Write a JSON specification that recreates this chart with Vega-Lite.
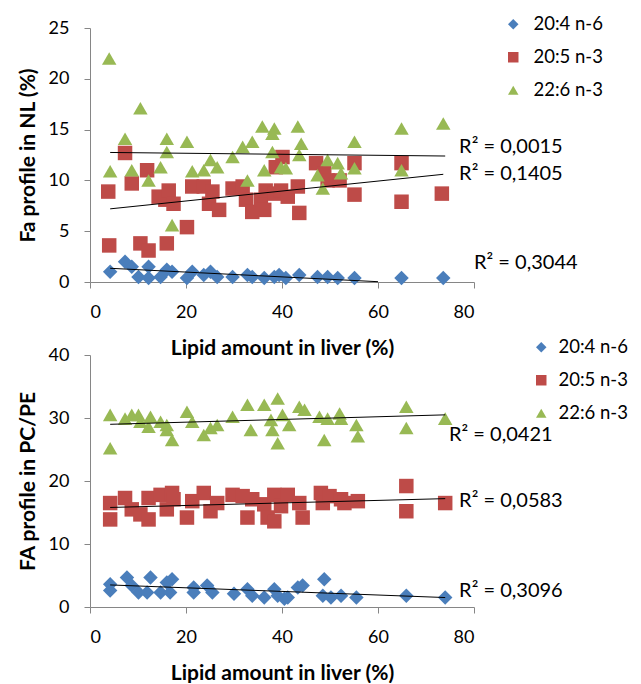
{
  "$schema": "https://vega.github.io/schema/vega-lite/v6.json",
  "padding": {"left": 17, "top": 15, "right": 0, "bottom": 0},
  "background": "white",
  "datasets": {
    "nl": [
      {"s":"20:4 n-6","x":4.2,"y":1.0},{"s":"20:4 n-6","x":7.3,"y":2.0},{"s":"20:4 n-6","x":8.7,"y":1.5},{"s":"20:4 n-6","x":10.1,"y":0.5},{"s":"20:4 n-6","x":12.2,"y":1.5},{"s":"20:4 n-6","x":12.2,"y":0.4},{"s":"20:4 n-6","x":14.7,"y":0.5},{"s":"20:4 n-6","x":16.0,"y":1.2},{"s":"20:4 n-6","x":17.1,"y":1.0},{"s":"20:4 n-6","x":20.2,"y":0.4},{"s":"20:4 n-6","x":21.3,"y":1.0},{"s":"20:4 n-6","x":23.7,"y":0.7},{"s":"20:4 n-6","x":25.1,"y":1.0},{"s":"20:4 n-6","x":26.5,"y":0.5},{"s":"20:4 n-6","x":29.7,"y":0.5},{"s":"20:4 n-6","x":32.8,"y":0.7},{"s":"20:4 n-6","x":33.8,"y":0.5},{"s":"20:4 n-6","x":36.3,"y":0.4},{"s":"20:4 n-6","x":38.4,"y":0.5},{"s":"20:4 n-6","x":39.4,"y":0.7},{"s":"20:4 n-6","x":40.8,"y":0.4},{"s":"20:4 n-6","x":43.6,"y":0.7},{"s":"20:4 n-6","x":47.4,"y":0.5},{"s":"20:4 n-6","x":49.5,"y":0.5},{"s":"20:4 n-6","x":51.6,"y":0.4},{"s":"20:4 n-6","x":55.1,"y":0.4},{"s":"20:4 n-6","x":64.9,"y":0.4},{"s":"20:4 n-6","x":73.6,"y":0.4},
      {"s":"20:5 n-3","x":3.8,"y":8.9},{"s":"20:5 n-3","x":4.0,"y":3.6},{"s":"20:5 n-3","x":7.3,"y":12.7},{"s":"20:5 n-3","x":8.7,"y":9.7},{"s":"20:5 n-3","x":10.5,"y":3.8},{"s":"20:5 n-3","x":11.9,"y":11.0},{"s":"20:5 n-3","x":12.2,"y":3.1},{"s":"20:5 n-3","x":14.3,"y":8.4},{"s":"20:5 n-3","x":15.7,"y":8.1},{"s":"20:5 n-3","x":16.0,"y":3.8},{"s":"20:5 n-3","x":16.4,"y":9.0},{"s":"20:5 n-3","x":17.4,"y":7.7},{"s":"20:5 n-3","x":20.2,"y":5.4},{"s":"20:5 n-3","x":21.3,"y":9.4},{"s":"20:5 n-3","x":23.7,"y":9.4},{"s":"20:5 n-3","x":24.8,"y":7.7},{"s":"20:5 n-3","x":25.5,"y":8.9},{"s":"20:5 n-3","x":26.9,"y":7.1},{"s":"20:5 n-3","x":29.7,"y":9.2},{"s":"20:5 n-3","x":31.8,"y":9.4},{"s":"20:5 n-3","x":32.5,"y":8.1},{"s":"20:5 n-3","x":33.8,"y":6.9},{"s":"20:5 n-3","x":35.6,"y":8.1},{"s":"20:5 n-3","x":36.3,"y":7.1},{"s":"20:5 n-3","x":36.6,"y":9.0},{"s":"20:5 n-3","x":38.4,"y":8.7},{"s":"20:5 n-3","x":38.7,"y":11.3},{"s":"20:5 n-3","x":39.8,"y":9.0},{"s":"20:5 n-3","x":40.1,"y":12.3},{"s":"20:5 n-3","x":41.2,"y":8.4},{"s":"20:5 n-3","x":43.3,"y":9.4},{"s":"20:5 n-3","x":43.6,"y":6.8},{"s":"20:5 n-3","x":47.1,"y":11.7},{"s":"20:5 n-3","x":48.8,"y":10.7},{"s":"20:5 n-3","x":49.5,"y":10.0},{"s":"20:5 n-3","x":52.0,"y":10.0},{"s":"20:5 n-3","x":55.1,"y":11.7},{"s":"20:5 n-3","x":55.1,"y":8.6},{"s":"20:5 n-3","x":64.9,"y":11.7},{"s":"20:5 n-3","x":64.9,"y":7.9},{"s":"20:5 n-3","x":73.3,"y":8.7},
      {"s":"22:6 n-3","x":4.0,"y":22.0},{"s":"22:6 n-3","x":4.2,"y":10.9},{"s":"22:6 n-3","x":7.3,"y":14.1},{"s":"22:6 n-3","x":8.7,"y":11.0},{"s":"22:6 n-3","x":10.5,"y":17.1},{"s":"22:6 n-3","x":12.2,"y":10.0},{"s":"22:6 n-3","x":14.7,"y":11.3},{"s":"22:6 n-3","x":16.0,"y":14.1},{"s":"22:6 n-3","x":16.0,"y":12.8},{"s":"22:6 n-3","x":17.1,"y":5.6},{"s":"22:6 n-3","x":20.2,"y":13.8},{"s":"22:6 n-3","x":21.3,"y":10.9},{"s":"22:6 n-3","x":23.7,"y":11.0},{"s":"22:6 n-3","x":25.1,"y":12.0},{"s":"22:6 n-3","x":26.5,"y":11.3},{"s":"22:6 n-3","x":29.7,"y":12.3},{"s":"22:6 n-3","x":31.8,"y":13.3},{"s":"22:6 n-3","x":32.8,"y":10.0},{"s":"22:6 n-3","x":33.8,"y":13.8},{"s":"22:6 n-3","x":35.9,"y":15.3},{"s":"22:6 n-3","x":36.3,"y":11.0},{"s":"22:6 n-3","x":38.4,"y":15.1},{"s":"22:6 n-3","x":38.0,"y":14.6},{"s":"22:6 n-3","x":38.0,"y":12.8},{"s":"22:6 n-3","x":39.8,"y":11.3},{"s":"22:6 n-3","x":40.8,"y":11.2},{"s":"22:6 n-3","x":43.3,"y":15.3},{"s":"22:6 n-3","x":44.0,"y":13.6},{"s":"22:6 n-3","x":43.6,"y":12.5},{"s":"22:6 n-3","x":47.4,"y":10.5},{"s":"22:6 n-3","x":48.5,"y":9.2},{"s":"22:6 n-3","x":49.5,"y":12.0},{"s":"22:6 n-3","x":51.6,"y":11.7},{"s":"22:6 n-3","x":52.3,"y":10.7},{"s":"22:6 n-3","x":55.1,"y":13.8},{"s":"22:6 n-3","x":55.1,"y":11.2},{"s":"22:6 n-3","x":64.9,"y":15.1},{"s":"22:6 n-3","x":64.9,"y":11.0},{"s":"22:6 n-3","x":73.6,"y":15.6}
    ],
    "pc": [
      {"s":"20:4 n-6","x":4.2,"y":3.6},{"s":"20:4 n-6","x":4.2,"y":2.6},{"s":"20:4 n-6","x":7.7,"y":4.7},{"s":"20:4 n-6","x":8.7,"y":3.4},{"s":"20:4 n-6","x":10.1,"y":2.3},{"s":"20:4 n-6","x":12.6,"y":4.7},{"s":"20:4 n-6","x":11.9,"y":2.3},{"s":"20:4 n-6","x":14.7,"y":2.3},{"s":"20:4 n-6","x":16.0,"y":3.9},{"s":"20:4 n-6","x":17.1,"y":4.4},{"s":"20:4 n-6","x":16.7,"y":2.3},{"s":"20:4 n-6","x":21.6,"y":3.1},{"s":"20:4 n-6","x":21.6,"y":2.3},{"s":"20:4 n-6","x":24.4,"y":3.4},{"s":"20:4 n-6","x":25.5,"y":2.3},{"s":"20:4 n-6","x":30.0,"y":2.1},{"s":"20:4 n-6","x":32.8,"y":2.8},{"s":"20:4 n-6","x":33.8,"y":1.8},{"s":"20:4 n-6","x":36.3,"y":1.5},{"s":"20:4 n-6","x":38.4,"y":2.8},{"s":"20:4 n-6","x":39.1,"y":1.8},{"s":"20:4 n-6","x":40.5,"y":1.3},{"s":"20:4 n-6","x":41.2,"y":1.5},{"s":"20:4 n-6","x":43.3,"y":3.1},{"s":"20:4 n-6","x":44.3,"y":3.4},{"s":"20:4 n-6","x":48.8,"y":4.4},{"s":"20:4 n-6","x":48.5,"y":1.8},{"s":"20:4 n-6","x":50.2,"y":1.5},{"s":"20:4 n-6","x":52.3,"y":1.8},{"s":"20:4 n-6","x":55.5,"y":1.5},{"s":"20:4 n-6","x":65.9,"y":1.8},{"s":"20:4 n-6","x":74.0,"y":1.5},
      {"s":"20:5 n-3","x":4.2,"y":16.5},{"s":"20:5 n-3","x":4.2,"y":13.9},{"s":"20:5 n-3","x":7.3,"y":17.3},{"s":"20:5 n-3","x":8.7,"y":15.5},{"s":"20:5 n-3","x":10.5,"y":14.7},{"s":"20:5 n-3","x":12.2,"y":17.3},{"s":"20:5 n-3","x":12.2,"y":13.9},{"s":"20:5 n-3","x":14.7,"y":17.8},{"s":"20:5 n-3","x":16.0,"y":15.5},{"s":"20:5 n-3","x":17.1,"y":18.1},{"s":"20:5 n-3","x":17.4,"y":17.1},{"s":"20:5 n-3","x":20.2,"y":14.2},{"s":"20:5 n-3","x":21.3,"y":16.8},{"s":"20:5 n-3","x":23.7,"y":18.1},{"s":"20:5 n-3","x":25.1,"y":15.2},{"s":"20:5 n-3","x":26.5,"y":16.5},{"s":"20:5 n-3","x":29.7,"y":17.8},{"s":"20:5 n-3","x":31.8,"y":17.6},{"s":"20:5 n-3","x":32.8,"y":14.2},{"s":"20:5 n-3","x":33.8,"y":17.1},{"s":"20:5 n-3","x":36.3,"y":16.3},{"s":"20:5 n-3","x":37.0,"y":14.2},{"s":"20:5 n-3","x":38.4,"y":17.8},{"s":"20:5 n-3","x":38.4,"y":13.6},{"s":"20:5 n-3","x":39.8,"y":16.0},{"s":"20:5 n-3","x":41.2,"y":17.8},{"s":"20:5 n-3","x":43.6,"y":16.5},{"s":"20:5 n-3","x":44.3,"y":14.2},{"s":"20:5 n-3","x":48.1,"y":18.1},{"s":"20:5 n-3","x":48.5,"y":16.5},{"s":"20:5 n-3","x":49.9,"y":17.6},{"s":"20:5 n-3","x":52.3,"y":17.1},{"s":"20:5 n-3","x":53.0,"y":16.5},{"s":"20:5 n-3","x":55.8,"y":16.8},{"s":"20:5 n-3","x":65.9,"y":19.2},{"s":"20:5 n-3","x":65.9,"y":15.2},{"s":"20:5 n-3","x":74.0,"y":16.5},
      {"s":"22:6 n-3","x":4.2,"y":30.5},{"s":"22:6 n-3","x":4.2,"y":25.2},{"s":"22:6 n-3","x":7.3,"y":29.9},{"s":"22:6 n-3","x":8.7,"y":30.5},{"s":"22:6 n-3","x":10.1,"y":30.5},{"s":"22:6 n-3","x":10.5,"y":29.4},{"s":"22:6 n-3","x":12.2,"y":28.6},{"s":"22:6 n-3","x":12.6,"y":30.2},{"s":"22:6 n-3","x":14.7,"y":29.4},{"s":"22:6 n-3","x":16.0,"y":28.9},{"s":"22:6 n-3","x":16.0,"y":28.1},{"s":"22:6 n-3","x":17.1,"y":26.5},{"s":"22:6 n-3","x":20.2,"y":31.0},{"s":"22:6 n-3","x":21.3,"y":29.4},{"s":"22:6 n-3","x":23.7,"y":27.3},{"s":"22:6 n-3","x":25.1,"y":28.4},{"s":"22:6 n-3","x":26.5,"y":28.9},{"s":"22:6 n-3","x":29.7,"y":30.2},{"s":"22:6 n-3","x":32.8,"y":32.1},{"s":"22:6 n-3","x":33.5,"y":28.1},{"s":"22:6 n-3","x":36.3,"y":32.1},{"s":"22:6 n-3","x":37.7,"y":29.7},{"s":"22:6 n-3","x":38.0,"y":28.1},{"s":"22:6 n-3","x":39.1,"y":33.1},{"s":"22:6 n-3","x":39.1,"y":26.0},{"s":"22:6 n-3","x":40.1,"y":30.5},{"s":"22:6 n-3","x":41.5,"y":28.9},{"s":"22:6 n-3","x":43.6,"y":31.8},{"s":"22:6 n-3","x":44.7,"y":31.3},{"s":"22:6 n-3","x":47.8,"y":30.2},{"s":"22:6 n-3","x":48.8,"y":26.5},{"s":"22:6 n-3","x":49.5,"y":29.9},{"s":"22:6 n-3","x":52.0,"y":30.7},{"s":"22:6 n-3","x":52.3,"y":29.9},{"s":"22:6 n-3","x":55.5,"y":28.9},{"s":"22:6 n-3","x":55.8,"y":27.1},{"s":"22:6 n-3","x":65.9,"y":31.8},{"s":"22:6 n-3","x":65.9,"y":28.4},{"s":"22:6 n-3","x":74.0,"y":29.9}
    ],
    "nlTrend": [
      {"s":"20:4 n-6","x":4.2,"y":1.35},{"s":"20:4 n-6","x":60,"y":0.03},
      {"s":"20:5 n-3","x":4.2,"y":7.2},{"s":"20:5 n-3","x":73.6,"y":10.6},
      {"s":"22:6 n-3","x":4.2,"y":12.75},{"s":"22:6 n-3","x":74,"y":12.4}
    ],
    "pcTrend": [
      {"s":"20:4 n-6","x":4.2,"y":3.5},{"s":"20:4 n-6","x":74,"y":1.5},
      {"s":"20:5 n-3","x":4.2,"y":15.8},{"s":"20:5 n-3","x":74,"y":17.2},
      {"s":"22:6 n-3","x":4.2,"y":29.0},{"s":"22:6 n-3","x":74,"y":30.5}
    ],
    "nlR2": [
      {"t":"R² = 0,0015","x":76.9,"y":13.3},
      {"t":"R² = 0,1405","x":76.9,"y":10.6},
      {"t":"R² = 0,3044","x":80.0,"y":1.9}
    ],
    "pcR2": [
      {"t":"R² = 0,0421","x":74.8,"y":27.3},
      {"t":"R² = 0,0583","x":76.9,"y":16.9},
      {"t":"R² = 0,3096","x":76.9,"y":2.5}
    ]
  },
  "bounds": "flush",
  "spacing": 73,
  "vconcat": [
    {
      "width": 384,
      "height": 254,
      "layer": [
        {
          "data": {"name": "nl"},
          "mark": {"type": "point", "filled": true, "size": 210, "opacity": 1},
          "encoding": {
            "x": {"field": "x", "type": "quantitative", "scale": {"domain": [0, 80], "nice": false}, "axis": {"values": [0, 20, 40, 60, 80], "title": "Lipid amount in liver (%)"}},
            "y": {"field": "y", "type": "quantitative", "scale": {"domain": [0, 25], "nice": false}, "axis": {"values": [0, 5, 10, 15, 20, 25], "title": "Fa profile in NL (%)"}},
            "color": {"field": "s", "type": "nominal", "scale": {"domain": ["20:4 n-6", "20:5 n-3", "22:6 n-3"], "range": ["#4A7EBB", "#BE4B48", "#98B954"]}, "legend": {"orient": "none", "legendX": 414, "legendY": -13, "rowPadding": 14, "labelOffset": 11}},
            "shape": {"field": "s", "type": "nominal", "scale": {"domain": ["20:4 n-6", "20:5 n-3", "22:6 n-3"], "range": ["diamond", "square", "triangle-up"]}, "legend": {"orient": "none", "legendX": 414, "legendY": -13, "rowPadding": 14, "labelOffset": 11}}
          }
        },
        {
          "data": {"name": "nlTrend"},
          "mark": {"type": "line", "color": "black", "strokeWidth": 1},
          "encoding": {
            "x": {"field": "x", "type": "quantitative"},
            "y": {"field": "y", "type": "quantitative"},
            "detail": {"field": "s"}
          }
        },
        {
          "data": {"name": "nlR2"},
          "mark": {"type": "text", "align": "left", "baseline": "middle", "fontSize": 20, "font": "Lato", "color": "black"},
          "encoding": {
            "x": {"field": "x", "type": "quantitative"},
            "y": {"field": "y", "type": "quantitative"},
            "text": {"field": "t"}
          }
        }
      ]
    },
    {
      "width": 384,
      "height": 252,
      "layer": [
        {
          "data": {"name": "pc"},
          "mark": {"type": "point", "filled": true, "size": 210, "opacity": 1},
          "encoding": {
            "x": {"field": "x", "type": "quantitative", "scale": {"domain": [0, 80], "nice": false}, "axis": {"values": [0, 20, 40, 60, 80], "title": "Lipid amount in liver (%)"}},
            "y": {"field": "y", "type": "quantitative", "scale": {"domain": [0, 40], "nice": false}, "axis": {"values": [0, 5, 10, 15, 20, 25, 30, 35, 40], "title": "FA profile in PC/PE"}},
            "color": {"field": "s", "type": "nominal", "scale": {"domain": ["20:4 n-6", "20:5 n-3", "22:6 n-3"], "range": ["#4A7EBB", "#BE4B48", "#98B954"]}, "legend": {"orient": "none", "legendX": 442, "legendY": -17, "rowPadding": 14, "labelOffset": 8}},
            "shape": {"field": "s", "type": "nominal", "scale": {"domain": ["20:4 n-6", "20:5 n-3", "22:6 n-3"], "range": ["diamond", "square", "triangle-up"]}, "legend": {"orient": "none", "legendX": 442, "legendY": -17, "rowPadding": 14, "labelOffset": 8}}
          }
        },
        {
          "data": {"name": "pcTrend"},
          "mark": {"type": "line", "color": "black", "strokeWidth": 1},
          "encoding": {
            "x": {"field": "x", "type": "quantitative"},
            "y": {"field": "y", "type": "quantitative"},
            "detail": {"field": "s"}
          }
        },
        {
          "data": {"name": "pcR2"},
          "mark": {"type": "text", "align": "left", "baseline": "middle", "fontSize": 20, "font": "Lato", "color": "black"},
          "encoding": {
            "x": {"field": "x", "type": "quantitative"},
            "y": {"field": "y", "type": "quantitative"},
            "text": {"field": "t"}
          }
        }
      ]
    }
  ],
  "resolve": {
    "scale": {"x": "independent", "y": "independent", "color": "independent", "shape": "independent"},
    "legend": {"color": "independent", "shape": "independent"}
  },
  "config": {
    "view": {"stroke": null},
    "font": "Lato",
    "axis": {
      "grid": false,
      "domainColor": "#868686",
      "tickColor": "#868686",
      "tickSize": 6,
      "labelColor": "black",
      "titleColor": "black",
      "labelFont": "Lato",
      "titleFont": "Lato",
      "labelFontSize": 18,
      "titleFontSize": 21,
      "titleFontWeight": "bold"
    },
    "axisX": {"labelPadding": 15, "titlePadding": 16},
    "axisY": {"labelPadding": 15, "titlePadding": 10},
    "legend": {
      "title": null,
      "labelFont": "Lato",
      "labelFontSize": 18.5,
      "labelColor": "black",
      "symbolSize": 110,
      "symbolStrokeWidth": 0,
      "padding": 0
    }
  }
}
